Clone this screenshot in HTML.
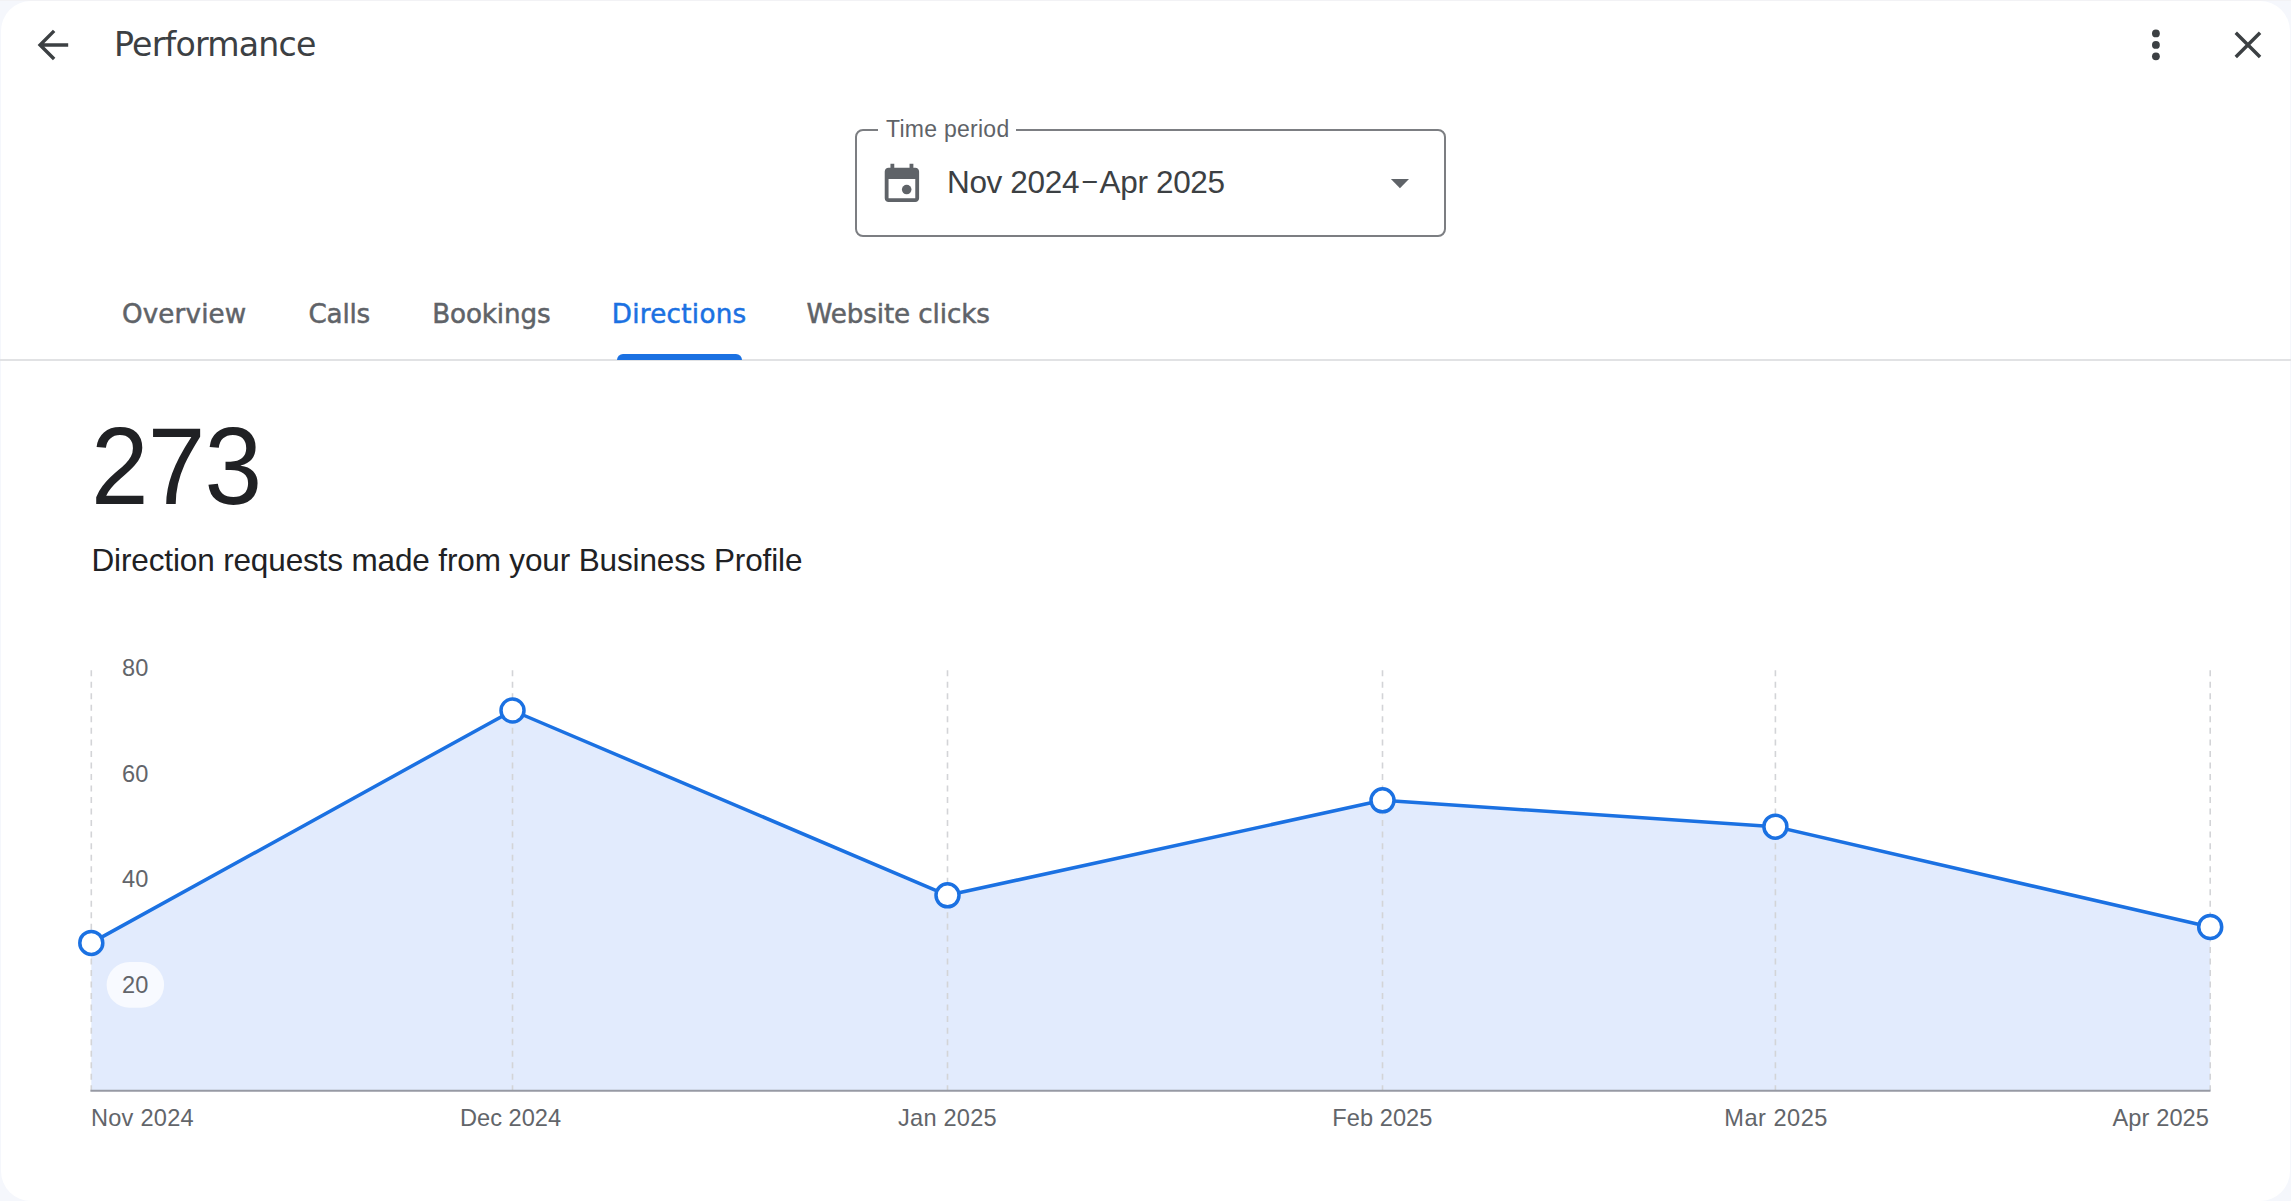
<!DOCTYPE html>
<html lang="en">
<head>
<meta charset="utf-8">
<title>Performance</title>
<style>
  html, body { margin: 0; padding: 0; }
  body {
    width: 2291px; height: 1201px; overflow: hidden; position: relative;
    background: #f5f7fc;
    font-family: "Liberation Sans", sans-serif;
    -webkit-font-smoothing: antialiased;
  }
  .card {
    position: absolute; left: 0.700px; top: 1px; width: 2288.900px; height: 1199.500px;
    background: #ffffff; border-radius: 30px;
  }
  .t { position: absolute; white-space: nowrap; line-height: 1; margin: 0; padding: 0; }
  svg { position: absolute; overflow: visible; }

  /* header */
  #title { left: 114px; top: 27.800px; font-size: 33.2px; color: #3c4043; letter-spacing: -0.8px; font-family: "DejaVu Sans", "Liberation Sans", sans-serif; }

  /* time period */
  .field {
    position: absolute; left: 855px; top: 129px; width: 587.400px; height: 104px;
    border: 2px solid #7c7e82; border-radius: 8px; box-sizing: content-box;
  }
  .notch { position: absolute; left: 878px; top: 126px; width: 138px; height: 8px; background: #fff; }
  #tplabel { left: 886px; top: 118.400px; font-size: 23px; color: #5f6368; letter-spacing: 0.26px; }
  #tpvalue { left: 947px; top: 166.500px; font-size: 31.5px; color: #3c4043; letter-spacing: -0.35px; }

  /* tabs */
  .tab { font-size: 26.2px; color: #5f6368; top: 301.200px; -webkit-text-stroke: 0.5px currentColor; font-family: "DejaVu Sans", "Liberation Sans", sans-serif; }
  #tab1 { left: 122px; letter-spacing: 0.13px; }
  #tab2 { left: 308.500px; letter-spacing: -0.2px; }
  #tab3 { left: 432.200px; letter-spacing: -0.14px; }
  #tab4 { left: 611.700px; color: #1b71e2; letter-spacing: 0.29px; }
  #tab5 { left: 806.500px; letter-spacing: -0.11px; }
  .ind { position: absolute; left: 617px; top: 354px; width: 125px; height: 6px; background: #1b71e2; border-radius: 6px 6px 0 0; }
  .divider { position: absolute; left: 0; top: 359px; width: 2291px; height: 2px; background: #e1e2e4; }

  /* metric */
  #big { left: 91px; top: 411.800px; font-size: 109px; color: #202124; letter-spacing: -0.9px; transform: scaleX(0.95); transform-origin: 0 0; }
  #desc { left: 91.500px; top: 544.500px; font-size: 31.5px; color: #202124; letter-spacing: -0.14px; }

  .ax { font-size: 23.6px; color: #62656a; letter-spacing: 0.23px; }
</style>
</head>
<body>
<div class="card"></div>
<div style="position:absolute;left:0;top:0;width:2291px;height:1px;background:#f2f2f5"></div>

<!-- back arrow -->
<svg width="45.840" height="45.840" viewBox="0 0 24 24" style="left:30.360px;top:21.700px"><path d="M20 12H6M12.640 4.640L5.270 12l7.370 7.360" stroke="#3c4043" stroke-width="1.800" fill="none" stroke-miterlimit="10"/></svg>
<div class="t" id="title">Performance</div>

<!-- more / close -->
<svg width="45.840" height="45.840" viewBox="0 0 24 24" style="left:2133.300px;top:21.900px"><circle cx="12" cy="6" r="2.050" fill="#3c4043"/><circle cx="12" cy="12" r="2.050" fill="#3c4043"/><circle cx="12" cy="18" r="2.050" fill="#3c4043"/></svg>
<svg width="45.840" height="45.840" viewBox="0 0 24 24" style="left:2225.200px;top:21.800px"><path d="M5.640 5.640L18.360 18.360M18.360 5.640L5.640 18.360" stroke="#3c4043" stroke-width="1.800" fill="none"/></svg>

<!-- time period -->
<div class="field"></div>
<div class="notch"></div>
<div class="t" id="tplabel">Time period</div>
<svg width="45.840" height="45.840" viewBox="0 0 24 24" style="left:878.800px;top:160.200px"><path d="M19 4h-1V2h-2v2H8V2H6v2H5c-1.1 0-2 .9-2 2v14c0 1.1.9 2 2 2h14c1.1 0 2-.9 2-2V6c0-1.100-.9-2-2-2zm0 16H5V10h14v10z" fill="#5f6368"/><circle cx="14.500" cy="15.500" r="2.500" fill="#5f6368"/></svg>
<div class="t" id="tpvalue">Nov 2024<span style="display:inline-block;margin:0 1.700px;transform:translateY(-3px) scaleX(0.8)">–</span>Apr 2025</div>
<svg width="20" height="12" viewBox="0 0 20 12" style="left:1390px;top:178px"><path d="M0.900 1h18.100l-9.050 9.300z" fill="#5f6368"/></svg>

<!-- tabs -->
<div class="t tab" id="tab1">Overview</div>
<div class="t tab" id="tab2">Calls</div>
<div class="t tab" id="tab3">Bookings</div>
<div class="t tab" id="tab4">Directions</div>
<div class="t tab" id="tab5">Website clicks</div>
<div class="divider"></div>
<div class="ind"></div>

<!-- metric -->
<div class="t" id="big">273</div>
<div class="t" id="desc">Direction requests made from your Business Profile</div>

<!-- chart -->
<svg id="chart" width="2291" height="1201" viewBox="0 0 2291 1201" style="left:0;top:0">
  <path d="M91.3 942.9L512.5 710.5L947.5 895.3L1382.5 800.3L1775.4 826.7L2210.2 927.0V1090.700H91.3Z" fill="#e2ebfd"/>
  <g stroke="#d3d4d7" stroke-width="1.600" stroke-dasharray="6 5.53" fill="none"><path d="M91.3 670.2V1090.500"/><path d="M512.5 670.2V1090.500"/><path d="M947.5 670.2V1090.500"/><path d="M1382.5 670.2V1090.500"/><path d="M1775.4 670.2V1090.500"/><path d="M2210.2 670.2V1090.500"/></g>
  <path d="M90.400 1090.750H2210.500" stroke="#979aa4" stroke-width="2" fill="none"/>
  <path d="M91.3 942.9L512.5 710.5L947.5 895.3L1382.5 800.3L1775.4 826.7L2210.2 927.0" fill="none" stroke="#1b71e2" stroke-width="3.5" stroke-linejoin="round"/>
  <g fill="#ffffff" stroke="#1b71e2" stroke-width="3.500"><circle cx="91.3" cy="942.9" r="11.5"/><circle cx="512.5" cy="710.5" r="11.5"/><circle cx="947.5" cy="895.3" r="11.5"/><circle cx="1382.5" cy="800.3" r="11.5"/><circle cx="1775.4" cy="826.7" r="11.5"/><circle cx="2210.2" cy="927.0" r="11.5"/></g>
  <rect x="106.600" y="962" width="57.500" height="45.800" rx="22.900" fill="#ffffff" fill-opacity="0.75"/>
</svg>
<div class="t ax" style="left:122px;top:656.800px">80</div>
<div class="t ax" style="left:122px;top:762.600px">60</div>
<div class="t ax" style="left:122px;top:868.200px">40</div>
<div class="t ax" style="left:122px;top:973.700px">20</div>

<div class="t ax xl" id="x1" style="left:91px;top:1107px">Nov 2024</div>
<div class="t ax xl" id="x2" style="left:460px;letter-spacing:0px;top:1107px">Dec 2024</div>
<div class="t ax xl" id="x3" style="left:898px;top:1107px">Jan 2025</div>
<div class="t ax xl" id="x4" style="left:1332.300px;letter-spacing:0.05px;top:1107px">Feb 2025</div>
<div class="t ax xl" id="x5" style="left:1724.300px;letter-spacing:0.5px;top:1107px">Mar 2025</div>
<div class="t ax xl" id="x6" style="left:2112.500px;letter-spacing:0.1px;top:1107px">Apr 2025</div>
</body>
</html>
